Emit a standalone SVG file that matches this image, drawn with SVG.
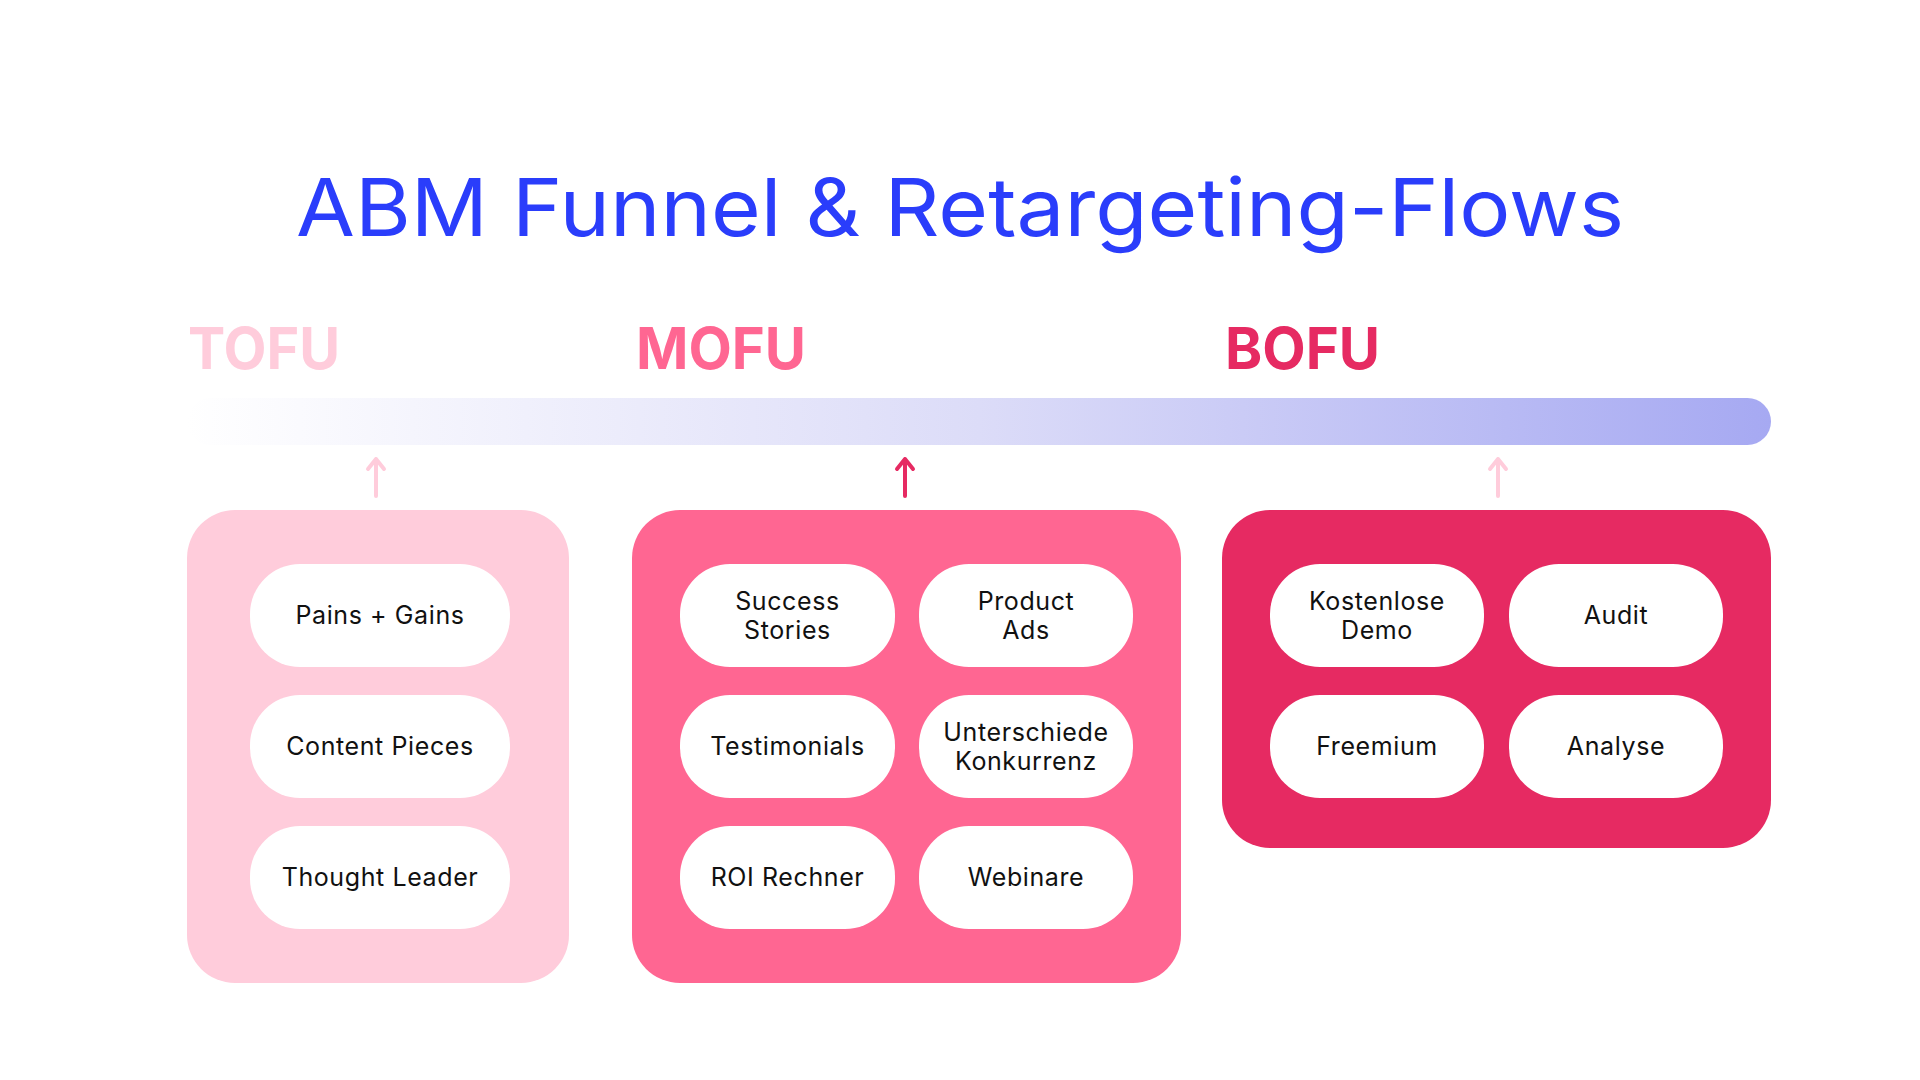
<svg xmlns="http://www.w3.org/2000/svg" width="1920" height="1080" viewBox="0 0 1920 1080">
  <defs>
    <linearGradient id="barGrad" x1="187" y1="0" x2="1771" y2="0" gradientUnits="userSpaceOnUse">
      <stop offset="0" stop-color="#FFFFFF"/>
      <stop offset="0.5" stop-color="#DCDCF8"/>
      <stop offset="1" stop-color="#A6A9F2"/>
    </linearGradient>
    <style>
      .title { font-family: "Inter", "Liberation Sans", sans-serif; font-size: 80px; fill: #2A3DFB; }
      .stage { font-family: "Inter", "Liberation Sans", sans-serif; font-size: 58px; font-weight: 700; }
      .pill { fill: #FFFFFF; }
      .pt { font-family: "Inter", "Liberation Sans", sans-serif; font-size: 25px; font-weight: 400; letter-spacing: 0.6px; fill: #111111; text-anchor: middle; }
      .arrow { fill: none; stroke-width: 4; stroke-linecap: round; stroke-linejoin: round; }
    </style>
  </defs>
  <rect width="1920" height="1080" fill="#FFFFFF"/>

  <text class="title" x="296" y="236" textLength="1328" lengthAdjust="spacingAndGlyphs">ABM Funnel &amp; Retargeting-Flows</text>

  <text class="stage" x="188" y="369" fill="#FFCCDB" textLength="152" lengthAdjust="spacingAndGlyphs">TOFU</text>
  <text class="stage" x="636" y="369" fill="#FF6692" textLength="170" lengthAdjust="spacingAndGlyphs">MOFU</text>
  <text class="stage" x="1225" y="369" fill="#E62A62" textLength="155" lengthAdjust="spacingAndGlyphs">BOFU</text>

  <rect id="bar" x="187" y="398" width="1584" height="47" rx="23.5" fill="url(#barGrad)"/>

  <g id="connectors">
    <path class="arrow" stroke="#FFCCDB" d="M376 496 V459 M368 469 L376 459 L384 469"/>
    <path class="arrow" stroke="#E62A62" d="M905 496 V459 M897 469 L905 459 L913 469"/>
    <path class="arrow" stroke="#FFCCDB" d="M1498 496 V459 M1490 469 L1498 459 L1506 469"/>
  </g>

  <g id="tofu">
    <rect x="187" y="510" width="382" height="473" rx="48" fill="#FFCCDB"/>
    <g id="tofu-pains">
      <rect class="pill" x="250" y="564" width="260" height="103" rx="50"/>
      <text class="pt" x="380" y="624">Pains + Gains</text>
    </g>
    <g id="tofu-content">
      <rect class="pill" x="250" y="695" width="260" height="103" rx="50"/>
      <text class="pt" x="380" y="755">Content Pieces</text>
    </g>
    <g id="tofu-thought">
      <rect class="pill" x="250" y="826" width="260" height="103" rx="50"/>
      <text class="pt" x="380" y="886">Thought Leader</text>
    </g>
  </g>

  <g id="mofu">
    <rect x="632" y="510" width="549" height="473" rx="48" fill="#FF6692"/>
    <g id="mofu-success">
      <rect class="pill" x="680" y="564" width="215" height="103" rx="50"/>
      <text class="pt" x="787.5" y="610">Success</text>
      <text class="pt" x="787.5" y="639">Stories</text>
    </g>
    <g id="mofu-product">
      <rect class="pill" x="919" y="564" width="214" height="103" rx="50"/>
      <text class="pt" x="1026" y="610">Product</text>
      <text class="pt" x="1026" y="639">Ads</text>
    </g>
    <g id="mofu-testimonials">
      <rect class="pill" x="680" y="695" width="215" height="103" rx="50"/>
      <text class="pt" x="787.5" y="755">Testimonials</text>
    </g>
    <g id="mofu-unterschiede">
      <rect class="pill" x="919" y="695" width="214" height="103" rx="50"/>
      <text class="pt" x="1026" y="741">Unterschiede</text>
      <text class="pt" x="1026" y="770">Konkurrenz</text>
    </g>
    <g id="mofu-roi">
      <rect class="pill" x="680" y="826" width="215" height="103" rx="50"/>
      <text class="pt" x="787.5" y="886">ROI Rechner</text>
    </g>
    <g id="mofu-webinare">
      <rect class="pill" x="919" y="826" width="214" height="103" rx="50"/>
      <text class="pt" x="1026" y="886">Webinare</text>
    </g>
  </g>

  <g id="bofu">
    <rect x="1222" y="510" width="549" height="338" rx="48" fill="#E62A62"/>
    <g id="bofu-demo">
      <rect class="pill" x="1270" y="564" width="214" height="103" rx="50"/>
      <text class="pt" x="1377" y="610">Kostenlose</text>
      <text class="pt" x="1377" y="639">Demo</text>
    </g>
    <g id="bofu-audit">
      <rect class="pill" x="1509" y="564" width="214" height="103" rx="50"/>
      <text class="pt" x="1616" y="624">Audit</text>
    </g>
    <g id="bofu-freemium">
      <rect class="pill" x="1270" y="695" width="214" height="103" rx="50"/>
      <text class="pt" x="1377" y="755">Freemium</text>
    </g>
    <g id="bofu-analyse">
      <rect class="pill" x="1509" y="695" width="214" height="103" rx="50"/>
      <text class="pt" x="1616" y="755">Analyse</text>
    </g>
  </g>
</svg>
